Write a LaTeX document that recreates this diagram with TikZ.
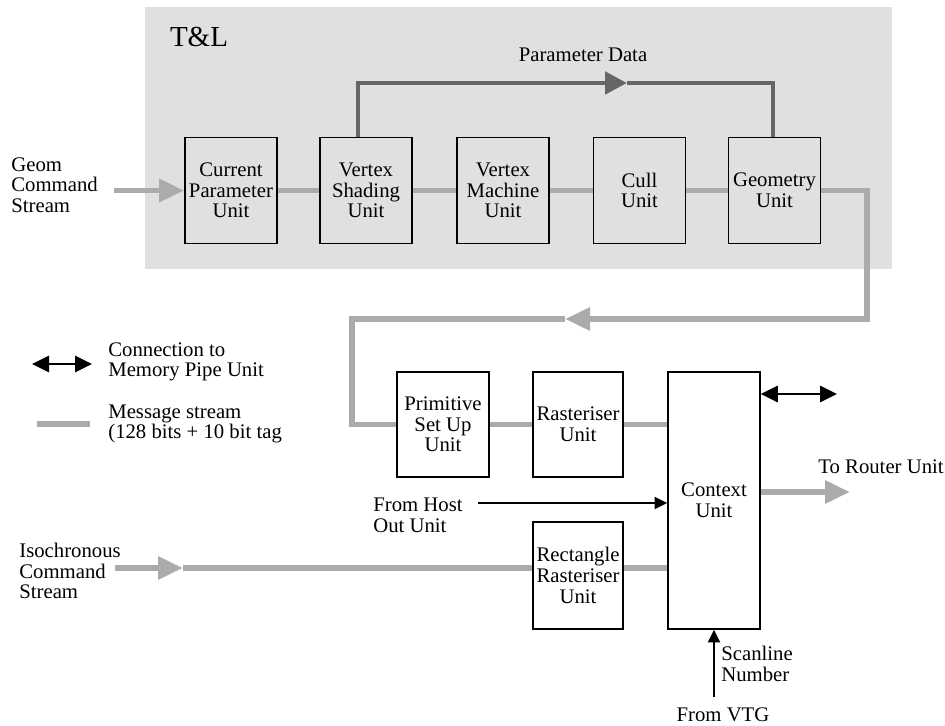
\documentclass[tikz,border=0pt]{standalone}
\usepackage{fontspec}
\setmainfont{Liberation Serif}
\usetikzlibrary{arrows.meta}
\definecolor{tlgray}{HTML}{E0E0E0}
\definecolor{msggray}{HTML}{ABABAB}
\definecolor{pdgray}{HTML}{666666}

\begin{document}
\begin{tikzpicture}[x=0.2mm, y=0.2mm,
    txt/.style={inner sep=0pt, font=\fontsize{11.8}{11.8}\selectfont},
    unit/.style={txt, draw=black, line width=0.9pt, align=center,
        minimum width=1.84cm, minimum height=2.12cm},
    lbl/.style={txt, align=left, anchor=west},
    msg/.style={draw=msggray, line width=3.4pt},
    msgtip/.style={-{Triangle[length=5mm, width=4.4mm]}},
    param/.style={draw=pdgray, line width=2.8pt},
    memlink/.style={draw=black, line width=1.7pt,
        {Triangle[length=3.4mm, width=3.2mm]}-{Triangle[length=3.4mm, width=3.2mm]}},
    ctrl/.style={draw=black, line width=0.8pt, -{Triangle[length=2.5mm, width=2.4mm]}}]
        \useasboundingbox (0,0) rectangle (945,-726);
        \fill [tlgray] (145,-7) rectangle (892,-269);
        \node [txt, font=\fontsize{16.5}{16.5}\selectfont] (tl) at (199,-37) {T\&L};
        % T&L units
        \node [unit] (cpu) at (231,-190.5) {Current\\Parameter\\Unit};
        \node [unit] (vsu) at (366,-190.5) {Vertex\\Shading\\Unit};
        \node [unit] (vmu) at (503,-190.5) {Vertex\\Machine\\Unit};
        \node [unit] (cull) at (639.5,-190.5) {Cull\\Unit};
        \node [unit] (geo) at (774.5,-190.5) {Geometry\\Unit};
        % rasterising units
        \node [unit, minimum height=2.1cm] (psu) at (443,-424.5) {Primitive\\Set Up\\Unit};
        \node [unit, minimum width=1.8cm, minimum height=2.1cm] (rast) at (578,-424.5) {Rasteriser\\Unit};
        \node [unit, minimum width=1.8cm, minimum height=2.14cm] (rrast) at (578,-575.5) {Rectangle\\Rasteriser\\Unit};
        \node [unit, minimum height=5.14cm] (ctx) at (714,-500.5) {Context\\Unit};
        % labels
        \node [lbl] (geomlbl) at (11,-185) {Geom\\Command\\Stream};
        \node [txt] (pdlbl) at (583,-55) {Parameter Data};
        \node [lbl] (memlbl) at (108,-362) {Connection to\\Memory Pipe Unit};
        \node [lbl] (msglbl) at (108,-424) {Message stream\\(128 bits + 10 bit tag};
        \node [lbl] (hostlbl) at (373,-515) {From Host\\Out Unit};
        \node [lbl] (isolbl) at (19,-571) {Isochronous\\Command\\Stream};
        \node [txt, anchor=east] (routerlbl) at (944,-467) {To Router Unit};
        \node [lbl] (scanlbl) at (721,-664) {Scanline\\Number};
        \node [txt] (vtglbl) at (723,-715) {From VTG};
        % free ends
        \coordinate (geomin) at (114,-190.5);
        \coordinate (p1) at (358,-83);
        \coordinate (pm) at (627,-83);
        \coordinate (p2) at (773,-83);
        \coordinate (r2) at (867,-319);
        \coordinate (r3) at (565,-319);
        \coordinate (r4) at (352,-319);
        \coordinate (mem) at (837,-394);
        \coordinate (router) at (850,-492);
        \coordinate (host) at (478,-503);
        \coordinate (vtg) at (714,-697);
        \coordinate (iso) at (115,-568);
        \coordinate (isoarr) at (183,-568);
        \coordinate (lega) at (32,-364);
        \coordinate (legb) at (92,-364);
        \coordinate (legc) at (37,-424);
        \coordinate (legd) at (90,-424);
        % message streams
        \draw [msg, msgtip] (geomin) -- (cpu.west);
        \draw [msg] (cpu.east) -- (vsu.west);
        \draw [msg] (vsu.east) -- (vmu.west);
        \draw [msg] (vmu.east) -- (cull.west);
        \draw [msg] (cull.east) -- (geo.west);
        \draw [msg, msgtip] (geo.east) -| (r2) -- (r3);
        \draw [msg] (r3) -- (r4) |- (psu.west);
        \draw [msg] (psu.east) -- (rast.west);
        \draw [msg] (rast.east) -- (rast.east -| ctx.west);
        \draw [msg, msgtip] (iso) -- (isoarr);
        \draw [msg] (isoarr) -- (isoarr -| rrast.west);
        \draw [msg] (isoarr -| rrast.east) -- (isoarr -| ctx.west);
        \draw [msg, msgtip] (router -| ctx.east) -- (router);
        % parameter data
        \draw [param, -{Triangle[length=4.4mm, width=4.4mm]}] (p1 |- vsu.north) -- (p1) -- (pm);
        \draw [param] (pm) -- (p2) -- (p2 |- geo.north);
        % other links
        \draw [memlink] (mem -| ctx.east) -- (mem);
        \draw [ctrl] (host) -- (host -| ctx.west);
        \draw [ctrl] (vtg) -- (ctx.south);
        % legend
        \draw [memlink] (lega) -- (legb);
        \draw [msg] (legc) -- (legd);
\end{tikzpicture}
\end{document}
